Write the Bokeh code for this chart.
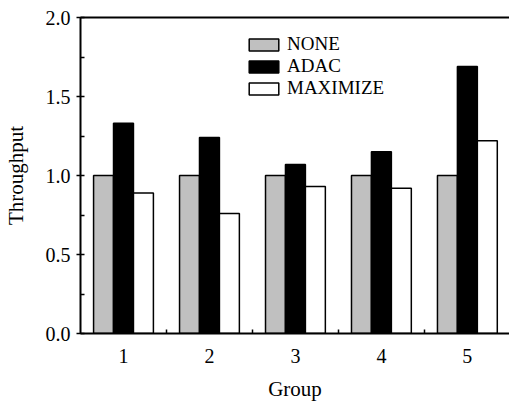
from bokeh.plotting import figure
from bokeh.models import (FixedTicker, LinearAxis, Legend, LegendItem,
                          ColumnDataSource, Range1d, PrintfTickFormatter)
from bokeh.transform import dodge
from bokeh.embed import file_html
from bokeh.resources import INLINE

# ---- data ----
groups = [1, 2, 3, 4, 5]
group_labels = ["1", "2", "3", "4", "5"]
none_vals = [1.0, 1.0, 1.0, 1.0, 1.0]
adac_vals = [1.33, 1.24, 1.07, 1.15, 1.69]
maximize_vals = [0.89, 0.76, 0.93, 0.92, 1.22]
series_names = ["NONE", "ADAC", "MAXIMIZE"]
y_ticks = [0.0, 0.5, 1.0, 1.5, 2.0]
y_minor = [0.25, 0.75, 1.25, 1.75]
x_minor = [1.5, 2.5, 3.5, 4.5]

FONT = "Liberation Serif"

src = ColumnDataSource(dict(x=groups, none=none_vals, adac=adac_vals, maxi=maximize_vals))

p = figure(width=509, height=403, x_range=Range1d(0.5, 5.49), y_range=Range1d(0, 2.0),
           output_backend="svg", toolbar_location=None,
           min_border_left=80, min_border_right=0, min_border_top=17, min_border_bottom=69)
p.xgrid.visible = False
p.ygrid.visible = False
p.outline_line_color = None
p.background_fill_color = "white"
p.border_fill_color = "white"

bw = 0.232
r1 = p.vbar(x=dodge("x", -bw, range=p.x_range), top="none", width=bw, source=src,
            fill_color="#c0c0c0", line_color="black", line_width=1.5)
r2 = p.vbar(x=dodge("x", 0.0, range=p.x_range), top="adac", width=bw, source=src,
            fill_color="black", line_color="black", line_width=1.5)
r3 = p.vbar(x=dodge("x", bw, range=p.x_range), top="maxi", width=bw, source=src,
            fill_color="white", line_color="black", line_width=1.5)

# x axis
xa = p.xaxis[0]
xa.ticker = FixedTicker(ticks=groups, minor_ticks=x_minor)
xa.major_label_overrides = {g: l for g, l in zip(groups, group_labels)}
xa.major_tick_in = 0
xa.major_tick_out = 0
xa.minor_tick_in = 4
xa.minor_tick_out = 0
xa.minor_tick_line_width = 1.5
xa.axis_line_width = 2
xa.axis_line_color = "black"
xa.minor_tick_line_color = "black"
xa.major_label_standoff = 15
xa.axis_label = "Group"
xa.axis_label_standoff = 11
xa.major_label_text_font = FONT
xa.major_label_text_font_size = "20px"
xa.major_label_text_color = "black"
xa.axis_label_text_font = FONT
xa.axis_label_text_font_size = "21px"
xa.axis_label_text_font_style = "normal"
xa.axis_label_text_color = "black"

# y axis
ya = p.yaxis[0]
ya.ticker = FixedTicker(ticks=y_ticks, minor_ticks=y_minor)
ya.formatter = PrintfTickFormatter(format="%.1f")
ya.major_tick_in = 4
ya.major_tick_out = 4
ya.minor_tick_in = 4
ya.minor_tick_out = 0
ya.major_tick_line_width = 1.5
ya.minor_tick_line_width = 1.5
ya.major_tick_line_color = "black"
ya.minor_tick_line_color = "black"
ya.axis_line_width = 2
ya.axis_line_color = "black"
ya.major_label_standoff = 6
ya.axis_label = "Throughput"
ya.axis_label_standoff = 15
ya.major_label_text_font = FONT
ya.major_label_text_font_size = "20px"
ya.major_label_text_color = "black"
ya.axis_label_text_font = FONT
ya.axis_label_text_font_size = "21px"
ya.axis_label_text_font_style = "normal"
ya.axis_label_text_color = "black"

# top frame line
top = LinearAxis(ticker=FixedTicker(ticks=[]), major_label_text_font_size="0px",
                 axis_line_width=2, axis_line_color="black",
                 major_tick_in=0, major_tick_out=0,
                 minor_tick_in=0, minor_tick_out=0)
p.add_layout(top, "above")

legend = Legend(items=[LegendItem(label=series_names[0], renderers=[r1]),
                       LegendItem(label=series_names[1], renderers=[r2]),
                       LegendItem(label=series_names[2], renderers=[r3])],
                location=(165, 234), glyph_width=37, glyph_height=15,
                label_height=15, spacing=0, padding=0, margin=0,
                label_standoff=5, label_text_font=FONT, label_text_font_size="19px",
                label_text_color="black",
                border_line_color=None, background_fill_alpha=0)
p.add_layout(legend, "center")

open("out.html", "w").write(file_html(p, INLINE))
